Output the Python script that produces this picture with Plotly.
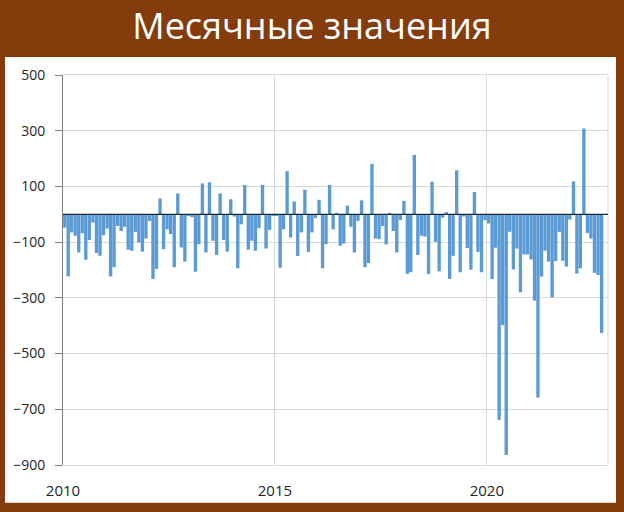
import plotly.graph_objects as go
import pandas as pd

title_text = "Месячные значения"

# monthly values, Jan 2010 .. Sep 2022
values = [
    -48, -223, -65, -77, -137, -68, -163, -92, -30, -139, -149, -75,      # 2010
    -51, -223, -190, -42, -60, -45, -127, -131, -63, -101, -134, -87,     # 2011
    -24, -232, -196, 57, -125, -54, -71, -190, 75, -119, -170, -3,        # 2012
    -10, -206, -107, 111, -137, 115, -95, -146, 75, -92, -134, 54,        # 2013
    -8, -194, -36, 105, -127, -95, -131, -50, 105, -123, -56, -5,         # 2014
    -6, -192, -54, 155, -83, 46, -150, -65, 88, -135, -65, -14,           # 2015
    52, -194, -107, 105, -54, 5, -113, -105, 31, -45, -137, -24,          # 2016
    50, -190, -175, 181, -87, -89, -42, -108, 5, -60, -137, -21,          # 2017
    48, -214, -208, 213, -146, -77, -80, -214, 117, -99, -205, -12,       # 2018
    8, -232, -149, 158, -208, -8, -121, -199, 80, -135, -208, -21,        # 2019
    -33, -233, -120, -738, -398, -864, -63, -198, -123, -280, -144, -144, # 2020
    -162, -310, -658, -224, -131, -170, -298, -168, -63, -167, -188, -19, # 2021
    118, -213, -194, 308, -67, -87, -210, -218, -426,                     # 2022
]
months = pd.date_range("2010-01-01", periods=len(values), freq="MS")

y_ticks = [-900, -700, -500, -300, -100, 100, 300, 500]
x_ticks = ["2010-01-01", "2015-01-01", "2020-01-01"]
x_tick_labels = ["2010", "2015", "2020"]

BROWN = "#843C0C"
BLUE = "#5B9BD5"
GRID = "#d9d9d9"

fig = go.Figure()
fig.add_trace(go.Bar(
    x=months, y=values,
    xperiod="M1", xperiodalignment="middle",
    marker=dict(color=BLUE, line=dict(width=0)),
    showlegend=False,
))

fig.update_layout(
    width=624, height=512,
    margin=dict(l=63, r=16, t=75, b=45),
    paper_bgcolor=BROWN,
    plot_bgcolor="white",
    bargap=0.02,
    font=dict(family="Open Sans", color="#404040"),
    title=dict(
        text=title_text, x=0.5, xref="container", xanchor="center",
        y=1 - 26 / 512, yref="container", yanchor="middle",
        font=dict(family="Open Sans", size=36, color="white"),
    ),
    shapes=[
        dict(type="rect", xref="paper", yref="paper",
             x0=(5 - 63) / 545, x1=(616 - 63) / 545,
             y0=(467 - 505) / 392, y1=(467 - 57) / 392,
             fillcolor="white", line=dict(width=0), layer="below"),
        dict(type="line", xref="paper", yref="paper", x0=1, x1=1, y0=0, y1=1,
             line=dict(color=GRID, width=1), layer="below"),
        dict(type="line", xref="paper", yref="y", x0=0, x1=1, y0=0, y1=0,
             line=dict(color="#1f2a36", width=1.3), layer="above"),
    ],
)

fig.update_xaxes(
    type="date",
    range=["2010-01-01", "2022-11-10"],
    tickvals=x_ticks, ticktext=x_tick_labels,
    showgrid=True, gridcolor=GRID, gridwidth=1,
    showline=True, linecolor=GRID, mirror=True,
    ticks="", ticklabelstandoff=12,
    tickfont=dict(family="Open Sans", size=15, color="#262626"),
    zeroline=False,
)
fig.update_yaxes(
    range=[-900, 500],
    tickvals=y_ticks,
    showgrid=True, gridcolor=GRID, gridwidth=1,
    showline=True, linecolor="#7f7f7f", linewidth=1,
    ticks="outside", ticklen=7, tickcolor="#7f7f7f",
    ticklabelstandoff=7,
    tickfont=dict(family="Open Sans", size=14, color="#262626"),
    zeroline=False,
)

fig.write_html("out.html", config={"displayModeBar": False},
               post_script="document.body.style.margin='0';")
